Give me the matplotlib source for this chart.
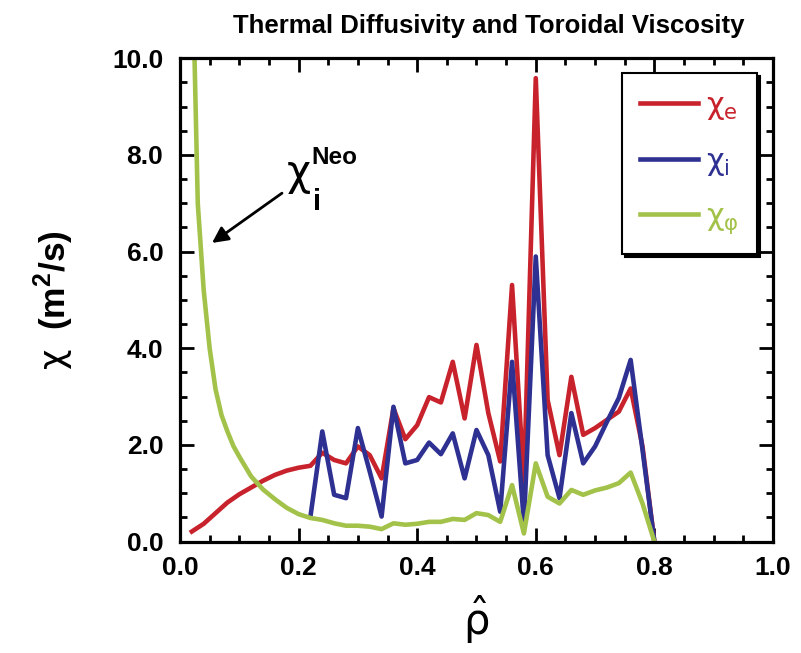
import matplotlib
matplotlib.use("Agg")
import matplotlib.pyplot as plt
from matplotlib import ticker, font_manager

# radial grid (rho hat) and profiles
rho = [0.02, 0.04, 0.06, 0.08, 0.10, 0.12, 0.14, 0.16, 0.18, 0.20,
       0.22, 0.24, 0.26, 0.28, 0.30, 0.32, 0.34, 0.36, 0.38, 0.40,
       0.42, 0.44, 0.46, 0.48, 0.50, 0.52, 0.54, 0.56, 0.58, 0.60,
       0.62, 0.64, 0.66, 0.68, 0.70, 0.72, 0.74, 0.76, 0.78, 0.80]

chi_e = [0.21, 0.37, 0.59, 0.81, 0.98, 1.12, 1.26, 1.38, 1.47, 1.53,
         1.57, 1.84, 1.69, 1.62, 1.97, 1.79, 1.31, 2.76, 2.12, 2.41,
         2.99, 2.88, 3.72, 2.55, 4.07, 2.66, 1.66, 5.31, 1.24, 9.59,
         2.93, 1.79, 3.41, 2.21, 2.35, 2.52, 2.69, 3.17, 1.97, 0.0]

rho_i = rho[10:]
chi_i = [0.52, 2.28, 0.97, 0.90, 2.35, 1.45, 0.52, 2.79, 1.62, 1.69,
         2.05, 1.81, 2.24, 1.31, 2.31, 1.79, 0.62, 3.72, 0.38, 5.90,
         1.79, 0.90, 2.66, 1.62, 1.97, 2.48, 2.97, 3.76, 1.90, 0.0]

# neoclassical part is resolved more finely near the axis
rho_phi = [0.02, 0.03, 0.04, 0.05, 0.06, 0.07, 0.08, 0.09] + rho[4:]
chi_phi = [12.5, 7.0, 5.2, 4.0, 3.15, 2.62, 2.28, 1.98,
           1.76, 1.35, 1.08, 0.88, 0.70, 0.57,
           0.49, 0.45, 0.38, 0.33, 0.33, 0.31, 0.26, 0.38, 0.35, 0.37,
           0.41, 0.41, 0.47, 0.45, 0.59, 0.55, 0.41, 1.17, 0.17, 1.62,
           0.93, 0.79, 1.07, 0.97, 1.06, 1.12, 1.21, 1.43, 0.79, 0.0]

colors = {"e": "#c8232c", "i": "#2e3192", "phi": "#a3c24a"}

names = {f.name for f in font_manager.fontManager.ttflist}
narrow = "Liberation Sans Narrow" if "Liberation Sans Narrow" in names else "Liberation Sans"
plt.rcParams["font.family"] = [narrow, "DejaVu Sans"]
plt.rcParams["mathtext.fontset"] = "custom"
plt.rcParams["mathtext.rm"] = "DejaVu Sans"
plt.rcParams["mathtext.bf"] = narrow + ":bold"
greek = ["DejaVu Sans"]

fig = plt.figure(figsize=(8.01, 6.53), dpi=100)
ax = fig.add_axes([0.2247, 0.1705, 0.7403, 0.7402])

ax.plot(rho, chi_e, color=colors["e"], lw=3.3, label=r"χ$_\mathrm{e}$")
ax.plot(rho_i, chi_i, color=colors["i"], lw=3.3, label=r"χ$_\mathrm{i}$")
ax.plot(rho_phi, chi_phi, color=colors["phi"], lw=3.3, label=r"χ$_\mathrm{φ}$")

ax.set_xlim(0, 1.0)
ax.set_ylim(0, 10.0)
ax.xaxis.set_major_locator(ticker.MultipleLocator(0.2))
ax.xaxis.set_minor_locator(ticker.MultipleLocator(0.05))
ax.yaxis.set_major_locator(ticker.MultipleLocator(2.0))
ax.yaxis.set_minor_locator(ticker.MultipleLocator(0.5))
ax.xaxis.set_major_formatter(ticker.FormatStrFormatter("%.1f"))
ax.yaxis.set_major_formatter(ticker.FormatStrFormatter("%.1f"))
ax.tick_params(which="both", direction="in", top=True, right=True, width=2)
ax.tick_params(which="major", length=10)
ax.tick_params(which="minor", length=5)
ax.tick_params(axis="x", pad=10, labelsize=19)
ax.tick_params(axis="y", pad=12, labelsize=19)
for lab in ax.get_xticklabels() + ax.get_yticklabels():
    lab.set_fontweight("bold")
for sp in ax.spines.values():
    sp.set_linewidth(2.3)

ax.set_title("Thermal Diffusivity and Toroidal Viscosity", fontsize=18.5,
             fontweight="bold", pad=18, x=0.521)
ax.set_ylabel(r"$\mathrm{χ}$  (m$^\mathbf{2}$/s)", fontsize=25.5,
              fontweight="bold", labelpad=26)
ax.set_xlabel(r"$\hat{\mathrm{ρ}}$", fontsize=30, labelpad=10)

# chi_i^Neo label with arrow
ax.text(0.180, 7.62, "χ", fontsize=30, ha="left", va="center", family=greek)
ax.text(0.222, 7.95, "Neo", fontsize=17.5, fontweight="bold", ha="left", va="center")
ax.text(0.224, 7.02, "i", fontsize=21, fontweight="bold", ha="left", va="center")
ax.annotate("", xy=(0.054, 6.18), xytext=(0.172, 7.21),
            arrowprops=dict(arrowstyle="-|>", color="k", lw=2,
                            mutation_scale=24, shrinkA=0, shrinkB=0))

leg = ax.legend(loc="upper right", bbox_to_anchor=(0.973, 0.97),
                borderaxespad=0, prop={"family": greek, "size": 22},
                labelcolor="linecolor",
                handlelength=1.9, handletextpad=0.25, labelspacing=0.8,
                borderpad=0.6, fancybox=False, framealpha=1, edgecolor="k",
                shadow={"color": "k", "alpha": 1})
leg.get_frame().set_linewidth(1.5)

plt.savefig("out.png", dpi=100)
